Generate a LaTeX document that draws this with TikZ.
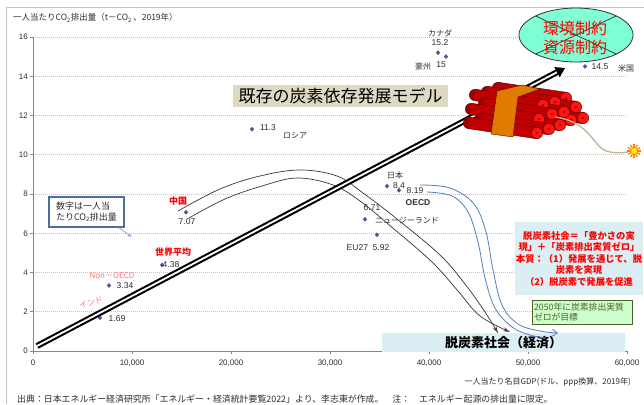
\documentclass[tikz,border=0pt]{standalone}
\usepackage{fontspec}
\setmainfont{Liberation Sans}
\newfontfamily\jp{Noto Sans CJK JP}
\usetikzlibrary{arrows.meta,shapes.geometric}
\definecolor{gridc}{RGB}{195,195,195}
\definecolor{axisc}{RGB}{134,134,134}
\definecolor{ptc}{RGB}{85,85,150}
\definecolor{numc}{RGB}{45,45,45}
\definecolor{pinkc}{RGB}{255,120,120}
\definecolor{titlebg}{RGB}{221,217,195}
\definecolor{aqua}{RGB}{128,255,212}
\definecolor{lblue}{RGB}{218,238,243}
\definecolor{lgreen}{RGB}{204,255,204}
\definecolor{dgreen}{RGB}{79,98,40}
\definecolor{curvc}{RGB}{55,55,55}
\definecolor{bluec}{RGB}{79,129,189}
\definecolor{calloutc}{RGB}{79,109,160}
\definecolor{ptrc}{RGB}{141,179,226}
\definecolor{bodyc}{RGB}{192,0,0}
\definecolor{backc}{RGB}{160,0,0}
\definecolor{darkred}{RGB}{90,0,0}
\definecolor{endc}{RGB}{255,20,20}
\definecolor{bandc}{RGB}{224,123,0}
\definecolor{fusec}{RGB}{196,180,150}
\begin{document}
\begin{tikzpicture}[x=1pt,y=-1pt,
  gridline/.style={draw=gridc, line width=0.6pt, dash pattern=on 1pt off 1pt},
  axisline/.style={draw=axisc, line width=0.7pt},
  ticklab/.style={font=\fontsize{8}{9}\selectfont, text=numc, inner sep=0pt},
  pt/.style={diamond, fill=ptc, inner sep=0pt, minimum width=4.5pt, minimum height=5pt},
  num/.style={font=\fontsize{8.5}{9}\selectfont, text=numc, inner sep=0pt},
  jlab/.style={font=\jp\fontsize{8}{9}\selectfont, text=numc, inner sep=0pt},
  redlab/.style={font=\jp\bfseries\fontsize{9}{10}\selectfont, text=red, inner sep=0pt},
  pinklab/.style={font=\jp\fontsize{8}{9}\selectfont, text=pinkc, inner sep=0pt},
  curv/.style={draw=curvc, line width=0.7pt, -{Stealth[length=7pt,width=4pt,open]}},
  bcurv/.style={draw=bluec, line width=0.8pt},
  bigarrow/.style={draw=black, line width=2.1pt, double=white, double distance=1.8pt, -{Triangle[length=9pt,width=11pt]}},
]
\useasboundingbox (0,0) rectangle (644,404);
\fill[white] (0,0) rectangle (644,404);
\draw[draw=gridc, line width=0.6pt] (6,404) -- (6,7) -- (644,7);

% grid and axes
\foreach \k in {1,...,8} {\draw[gridline] (33,{351-\k*39.25}) -- (627,{351-\k*39.25});}
\draw[axisline] (33,37) -- (33,351) -- (627,351);
\foreach \k in {0,...,8} {\draw[axisline] (30,{351-\k*39.25}) -- (33,{351-\k*39.25});}
\foreach \k in {0,...,6} {\draw[axisline] ({33+\k*99},351) -- ({33+\k*99},354);}
\foreach \k/\lab in {0/0,1/2,2/4,3/6,4/8,5/10,6/12,7/14,8/16}
  {\node[ticklab, anchor=east] (yl\k) at (28,{351-\k*39.25}) {\lab};}
\foreach \k/\lab in {0/0,1/{10,000},2/{20,000},3/{30,000},4/{40,000},5/{50,000},6/{60,000}}
  {\node[ticklab] (xl\k) at ({33+\k*99},363) {\lab};}
\node[font=\jp\fontsize{8.5}{9}\selectfont, text=numc, inner sep=0pt, anchor=west] (ytitle) at (13,18)
  {一人当たりCO\textsubscript{2}排出量（t－CO\textsubscript{2}\,、2019年）};
\node[font=\jp\fontsize{8}{9}\selectfont, text=numc, inner sep=0pt, anchor=east] (xtitle) at (631,382)
  {一人当たり名目GDP(ドル、ppp換算、2019年)};
\node[font=\jp\fontsize{8.9}{9}\selectfont, text=numc, inner sep=0pt, anchor=west] (source) at (17,399)
  {出典：日本エネルギー経済研究所「エネルギー・経済統計要覧2022」より、李志東が作成。　注：　エネルギー起源の排出量に限定。};

% boxes
\node[fill=titlebg, minimum width=215, minimum height=22, inner sep=0pt,
  font=\jp\fontsize{17}{17}\selectfont] (title) at (340.5,96) {既存の炭素依存発展モデル};
\node[draw=calloutc, line width=1.2pt, fill=white, minimum width=75, minimum height=30,
  font=\jp\fontsize{9}{11}\selectfont, align=left, inner sep=2pt, text=numc] (callout) at (86.5,212)
  {数字は一人当\\たりCO\textsubscript{2}排出量};
\coordinate (ptrEnd) at (132,237);
\draw[draw=ptrc, line width=0.9pt, -{Latex[length=4pt,width=4pt]}] ([xshift=-6pt]callout.south east) -- (ptrEnd);
\node[fill=lblue, minimum width=126, minimum height=73, text=red, inner sep=1pt,
  font=\jp\bfseries\fontsize{9.3}{11.5}\selectfont, align=center] (essence) at (579,258.5)
  {脱炭素社会＝「豊かさの実\\現」＋「炭素排出実質ゼロ」\\本質：（1）発展を通じて、脱\\炭素を実現\\（2）脱炭素で発展を促進};
\node[draw=dgreen, line width=0.5pt, fill=lgreen, minimum width=100, minimum height=24, text=dgreen,
  font=\jp\fontsize{8.8}{10.5}\selectfont, align=left, inner sep=1.5pt, text width=96pt] (goal) at (582,312)
  {2050年に炭素排出実質\\ゼロが目標};
\node[fill=lblue, minimum width=243, minimum height=19, inner sep=0pt,
  font=\jp\bfseries\fontsize{13}{13}\selectfont] (banner) at (503.5,342.5) {脱炭素社会（経済）};

% data points
\node[pt] (pRus) at (252,129.2) {};
\node[pt] (pCan) at (438,52.7) {};
\node[pt] (pAus) at (446,56.6) {};
\node[pt] (pUS) at (585,66.4) {};
\node[pt] (pChn) at (186,212.3) {};
\node[pt] (pWld) at (162,265) {};
\node[pt] (pNon) at (109,285.5) {};
\node[pt] (pInd) at (100,317.8) {};
\node[pt] (pJpn) at (387,186.1) {};
\node[pt] (pOECD) at (399,190.3) {};
\node[pt] (pNZ) at (365,219.3) {};
\node[pt] (pEU) at (377,234.8) {};

\node[num] (lRus) at (268,128) {11.3};
\node[jlab] (nRus) at (295,136) {ロシア};
\node[jlab] (nCan) at (440,33) {カナダ};
\node[num] (lCan) at (440,43) {15.2};
\node[jlab] (nAus) at (423,66) {豪州};
\node[num] (lAus) at (441,64.5) {15};
\node[num] (lUS) at (600,67) {14.5};
\node[jlab] (nUS) at (626,68) {米国};
\node[redlab] (nChn) at (178,201) {中国};
\node[num] (lChn) at (187,222) {7.07};
\node[redlab] (nWld) at (173,252) {世界平均};
\node[num] (lWld) at (171,265) {4.38};
\node[pinklab] (nNon) at (112,276) {Non－OECD};
\node[num] (lNon) at (125,286) {3.34};
\node[pinklab, rotate=15] (nInd) at (91,303) {インド};
\node[num] (lInd) at (117,319) {1.69};
\node[jlab] (nJpn) at (395,175) {日本};
\node[num] (lJpn) at (399,186) {8.4};
\node[num] (lOECD) at (415,191) {8.19};
\node[num, font=\bfseries\fontsize{8.5}{9}\selectfont] (nOECD) at (418,203) {OECD};
\node[num] (lNZ) at (372,208) {6.71};
\node[jlab] (nNZ) at (407,220) {ニュージーランド};
\node[num] (lEU) at (368,248) {EU27\ \ 5.92};

% transition curves
\draw[curv] plot[smooth, tension=0.6] coordinates {(178,211) (220,189) (260,176) (300,170) (337,176) (363,193) (397,219) (440,255) (465,284) (485,312) (498,333)};
\draw[curv] plot[smooth, tension=0.6] coordinates {(189,218) (225,199) (262,186) (297,178) (333,185) (360,201) (394,229) (432,262) (458,291) (480,316) (510,332)};
\draw[bcurv, -{Straight Barb[length=5pt,width=7pt]}] plot[smooth, tension=0.6] coordinates {(420,185) (450,188) (474,204) (486,232) (493,270) (502,305) (518,324) (540,331) (558,333)};
\draw[bcurv] plot[smooth, tension=0.6] coordinates {(427,192) (452,196) (468,212) (478,242) (485,278) (495,308) (512,327) (530,335) (546,338)};

% big arrow
\coordinate (aS) at (37,346);
\coordinate (aE) at (565,68);
\draw[bigarrow] (aS) -- (aE);

% dynamite
\foreach \cx/\cy in {566/98,583/118,576/107,555/102,571/120,564/112,543/105,560/125,552/114,539/119,549/129,537/133} {
  \filldraw[fill=backc, draw=darkred, line width=0.4pt] ({\cx-68},{\cy-10}) circle (5.7);
  \fill[bodyc] ({\cx+0.83},{\cy-5.64}) -- ({\cx-67.17},{\cy-15.64}) -- ({\cx-68.83},{\cy-4.36}) -- ({\cx-0.83},{\cy+5.64}) -- cycle;
  \draw[darkred, line width=0.4pt] ({\cx+0.83},{\cy-5.64}) -- ({\cx-67.17},{\cy-15.64});
  \draw[darkred, line width=0.4pt] ({\cx-68.83},{\cy-4.36}) -- ({\cx-0.83},{\cy+5.64});
  \filldraw[fill=endc, draw=darkred, line width=0.4pt] (\cx,\cy) circle (5.7);
  \fill[darkred] (\cx,\cy) circle (0.8);
}
\filldraw[fill=bandc, draw=darkred, line width=0.4pt] (491,134) -- (513,137) -- (518,97) -- (540,89) -- (522,85) -- (497,91) -- cycle;
\draw[fusec, line width=1.3pt] (555,117) .. controls (585,121) and (592,140) .. (600,147) .. controls (607,154) and (620,153) .. (628,152);
\foreach \a in {0,30,...,330} {\draw[orange, line width=1.2pt] (634,151) -- ++(\a:7);}
\fill[yellow!90!orange] (634,151) circle (3);

% constraint ellipse
\node[ellipse, draw=black!80, line width=0.8pt, fill=aqua, minimum width=114, minimum height=54, inner sep=0pt] (env) at (576,35) {};
\begin{scope}
  \clip (576,35) ellipse [x radius=57, y radius=27];
  \draw[black!80, line width=0.7pt] (519,8) -- (633,62);
  \draw[black!80, line width=0.7pt] (519,62) -- (633,8);
\end{scope}
\node[text=red, font=\jp\fontsize{16}{16}\selectfont, inner sep=0pt] (envA) at (575,28) {環境制約};
\node[text=red, font=\jp\fontsize{16}{16}\selectfont, inner sep=0pt] (envB) at (575,47) {資源制約};
\end{tikzpicture}
\end{document}
